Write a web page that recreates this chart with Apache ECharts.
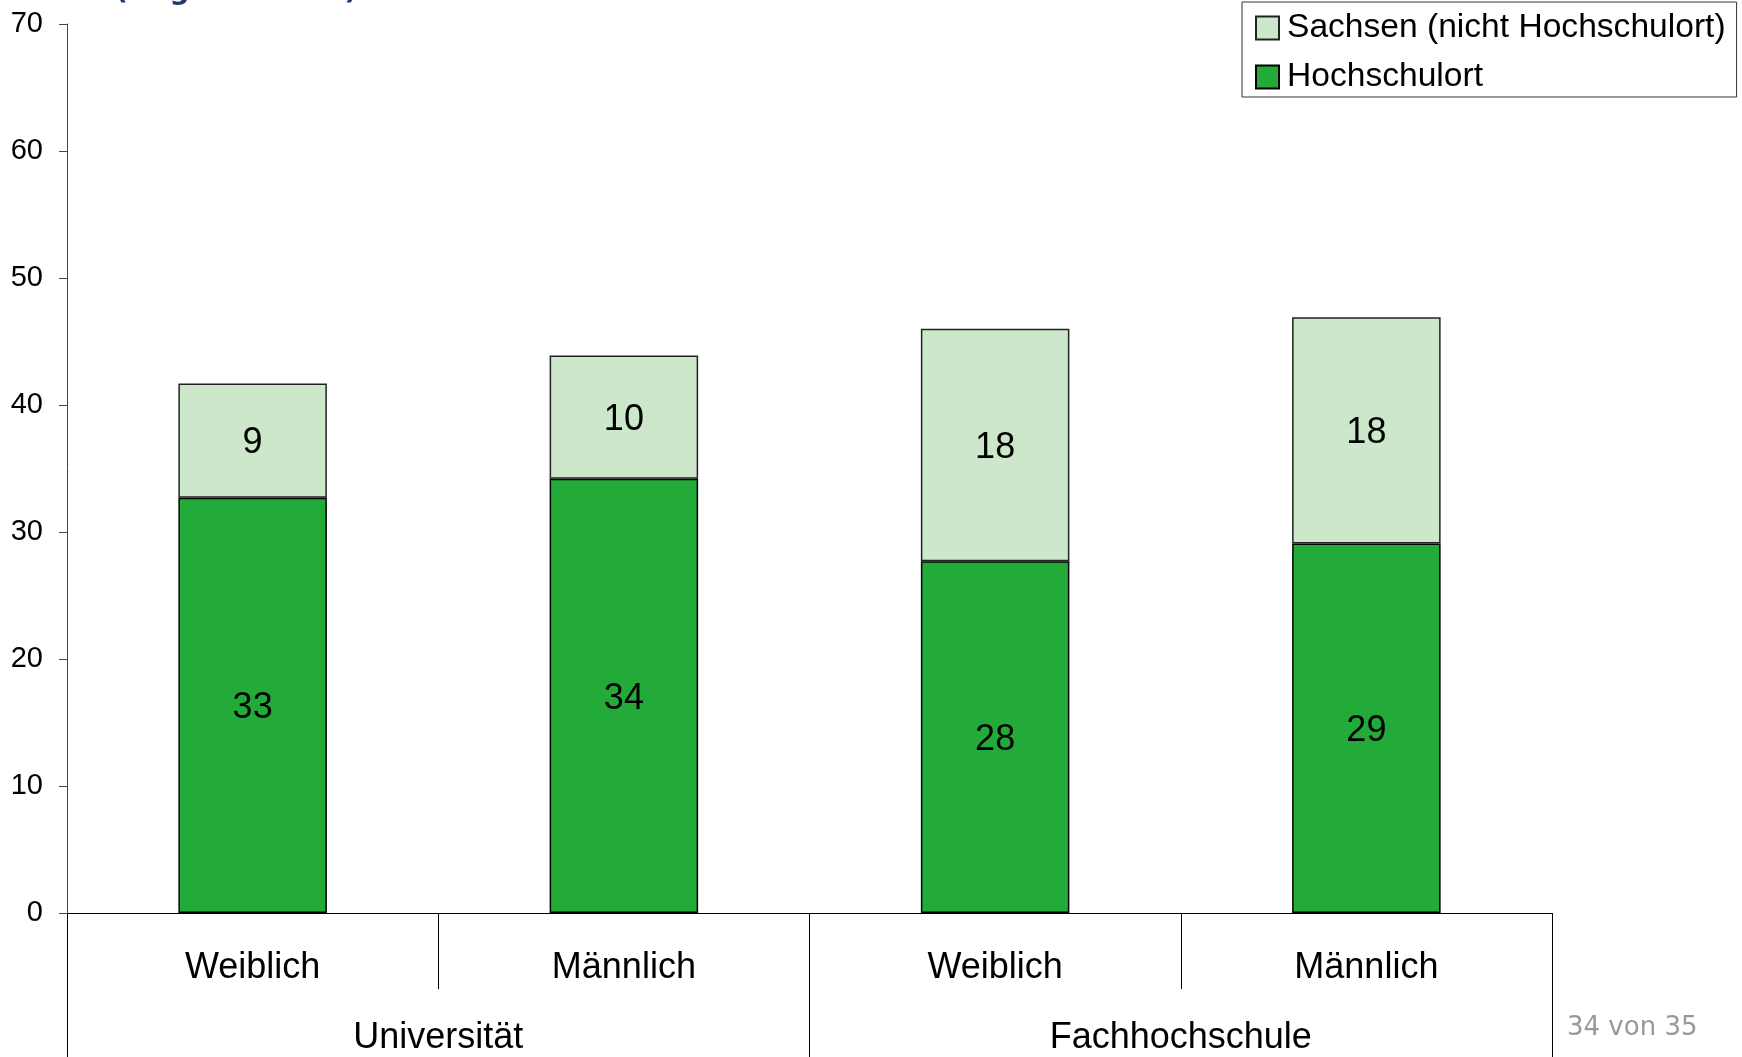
<!DOCTYPE html>
<html>
<head>
<meta charset="utf-8">
<title>Hochschulort / Sachsen</title>
<script src="https://cdn.jsdelivr.net/npm/echarts@6/dist/echarts.min.js"></script>
<style>
  html, body { margin: 0; padding: 0; background: #fff; }
  #chart { width: 1742px; height: 1057px; }
</style>
</head>
<body>
<div id="chart"></div>
<script>
// categories (inner level) and groups (outer level)
const categories = ['Weiblich', 'Männlich', 'Weiblich', 'Männlich']
const groups = ['Universität', 'Fachhochschule']

// stacked values
const hochschulort = [32.7, 34.2, 27.7, 29.1]
const sachsen = [9.0, 9.7, 18.3, 17.8]

const seriesNames = ['Hochschulort', 'Sachsen (nicht Hochschulort)']
const legendOrder = ['Sachsen (nicht Hochschulort)', 'Hochschulort']

const yMin = 0
const yMax = 70
const yStep = 10

const font = "'Liberation Sans', Arial, sans-serif"

const chart = echarts.init(document.getElementById('chart'))

const barLabel = {
  show: true,
  position: 'inside',
  offset: [0, 3],
  fontFamily: font,
  fontSize: 36,
  color: '#000',
  formatter: p => Math.round(p.value)
}

chart.setOption({
  animation: false,
  backgroundColor: '#fff',
  grid: {
    left: 67,
    right: 190,
    top: 24,
    bottom: 144
  },
  legend: {
    data: legendOrder,
    orient: 'vertical',
    left: 1242,
    top: 2,
    padding: [9, 11, 3, 13],
    itemGap: 15,
    itemWidth: 23,
    itemHeight: 23,
    icon: 'rect',
    borderColor: '#333',
    borderWidth: 1,
    textStyle: {
      fontFamily: font,
      fontSize: 33.6,
      lineHeight: 34,
      color: '#000',
      padding: [0, 0, 0, 3]
    }
  },
  graphic: [{
    type: 'text',
    left: 115,
    top: -22,
    style: {
      text: '(Angaben in %)',
      fontFamily: "'DejaVu Sans', Verdana, sans-serif",
      fontWeight: 'bold',
      fontSize: 28,
      fill: '#1F3B70'
    }
  }, {
    type: 'text',
    left: 1567,
    top: 1015,
    style: {
      text: '34 von 35',
      fontFamily: "'DejaVu Sans', Verdana, sans-serif",
      fontSize: 26,
      fill: '#999'
    }
  }],
  xAxis: [{
    type: 'category',
    data: categories,
    position: 'bottom',
    axisLine: { show: true, lineStyle: { color: '#000', width: 1 } },
    axisTick: { show: true, length: 76, interval: 0, lineStyle: { color: '#000' } },
    axisLabel: {
      interval: 0,
      margin: 37,
      fontFamily: font,
      fontSize: 36,
      color: '#000'
    }
  }, {
    type: 'category',
    data: groups,
    position: 'bottom',
    offset: 76,
    axisLine: { show: false },
    axisTick: { show: true, length: 90, interval: 0, lineStyle: { color: '#000' } },
    axisLabel: {
      interval: 0,
      margin: 31,
      fontFamily: font,
      fontSize: 36,
      color: '#000'
    }
  }],
  yAxis: {
    type: 'value',
    min: yMin,
    max: yMax,
    interval: yStep,
    axisLine: { show: true, lineStyle: { color: '#444' } },
    axisTick: { show: true, length: 8, lineStyle: { color: '#444' } },
    splitLine: { show: false },
    axisLabel: {
      margin: 24,
      fontFamily: font,
      fontSize: 29,
      color: '#000'
    }
  },
  series: [{
    name: seriesNames[0],
    type: 'bar',
    stack: 'total',
    barWidth: '40%',
    data: hochschulort,
    itemStyle: { color: '#22AB38', borderColor: '#000', borderWidth: 1.5 },
    label: barLabel
  }, {
    name: seriesNames[1],
    type: 'bar',
    stack: 'total',
    barWidth: '40%',
    data: sachsen,
    itemStyle: { color: '#CCE7CA', borderColor: '#222', borderWidth: 1.5 },
    label: barLabel
  }]
})
</script>
</body>
</html>
